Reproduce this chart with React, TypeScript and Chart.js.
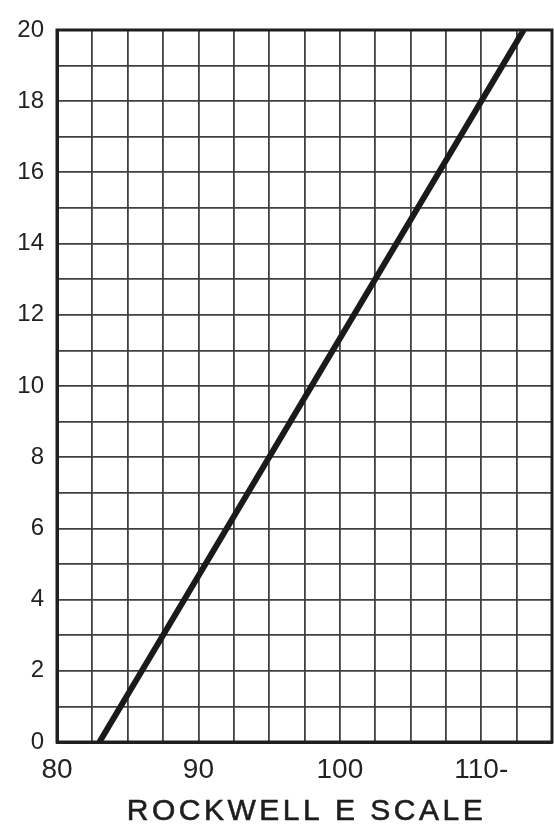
import React, { useEffect, useRef } from "react";
import { Chart, registerables } from "chart.js";

Chart.register(...registerables);

// Data
const lineX: number[] = [83, 113];
const lineY: number[] = [0, 20];
const xTickValues: number[] = [80, 90, 100, 110];
const xTickLabels: string[] = ["80", "90", "100", "110-"];
const yTickValues: number[] = [0, 2, 4, 6, 8, 10, 12, 14, 16, 18, 20];
const xAxisTitle = "ROCKWELL E SCALE";

const FONT = "'Liberation Sans', Arial, sans-serif";

const titlePlugin = {
  id: "spacedTitle",
  afterDraw(chart: any) {
    const { ctx, chartArea } = chart;
    ctx.save();
    ctx.font = `30px ${FONT}`;
    ctx.fillStyle = "#1e1e1e";
    ctx.strokeStyle = "#1e1e1e";
    ctx.lineWidth = 0.6;
    (ctx as any).letterSpacing = "3.5px";
    ctx.textAlign = "center";
    ctx.textBaseline = "alphabetic";
    const cx = (chartArea.left + chartArea.right) / 2 + 2;
    ctx.fillText(xAxisTitle, cx, 820);
    ctx.strokeText(xAxisTitle, cx, 820);
    ctx.restore();
  },
};

export default function App() {
  const ref = useRef<HTMLCanvasElement | null>(null);

  useEffect(() => {
    document.body.style.margin = "0";
    if (!ref.current) return;
    const chart = new Chart(ref.current, {
      type: "scatter",
      data: {
        datasets: [
          {
            data: lineX.map((x, i) => ({ x, y: lineY[i] })),
            showLine: true,
            borderColor: "#1a1a1a",
            borderWidth: 6,
            pointRadius: 0,
            fill: false,
          },
        ],
      },
      options: {
        responsive: false,
        animation: false,
        layout: { padding: { top: 30, right: 2, left: 0, bottom: 0 } },
        plugins: {
          legend: { display: false },
          tooltip: { enabled: false },
          title: { display: false },
        },
        scales: {
          x: {
            type: "linear",
            min: 80,
            max: 115,
            afterFit: (s: any) => {
              s.height = 85;
              s.paddingLeft = 0;
              s.paddingRight = 0;
            },
            border: { display: true, color: "#222", width: 3 },
            grid: { color: "#404040", lineWidth: 1.8, drawTicks: false },
            ticks: {
              stepSize: 2.5,
              autoSkip: false,
              maxRotation: 0,
              padding: 11,
              color: "#222",
              font: { family: FONT, size: 28 },
              callback: (v: any) => {
                const i = xTickValues.indexOf(Number(v));
                return i >= 0 ? xTickLabels[i] : "";
              },
            },
          },
          y: {
            type: "linear",
            min: 0,
            max: 20,
            afterFit: (s: any) => {
              s.width = 57;
              s.paddingTop = 0;
              s.paddingBottom = 0;
            },
            border: { display: true, color: "#222", width: 3 },
            grid: { color: "#404040", lineWidth: 1.8, drawTicks: false },
            ticks: {
              stepSize: 1,
              autoSkip: false,
              padding: 13,
              color: "#222",
              font: { family: FONT, size: 24 },
              callback: (v: any) =>
                yTickValues.indexOf(Number(v)) >= 0 ? String(v) : "",
            },
          },
        },
      },
      plugins: [
        titlePlugin,
        {
          id: "frame",
          afterDraw(chart: any) {
            const { ctx, chartArea } = chart;
            ctx.save();
            ctx.strokeStyle = "#1e1e1e";
            ctx.lineWidth = 3;
            ctx.strokeRect(
              chartArea.left,
              chartArea.top,
              chartArea.right - chartArea.left,
              chartArea.bottom - chartArea.top
            );
            ctx.restore();
          },
        },
      ],
    } as any);
    return () => chart.destroy();
  }, []);

  return (
    <div style={{ width: 554, height: 827, background: "#fff" }}>
      <canvas ref={ref} width={554} height={827} />
    </div>
  );
}
